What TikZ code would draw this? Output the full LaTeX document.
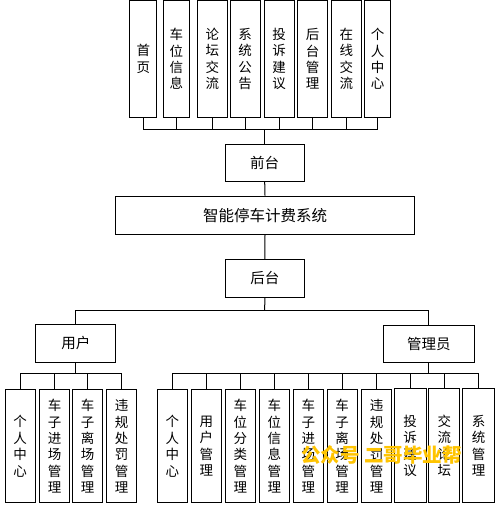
\documentclass[tikz,border=0pt]{standalone}
\usepackage{fontspec}
\setmainfont{Noto Sans CJK SC}
\begin{document}
\begin{tikzpicture}[x=1pt,y=-1pt,
  box/.style={draw=black, line width=1pt, fill=white, inner sep=0pt, align=center,
              font=\fontsize{13.5}{16.4}\selectfont},
  tbox/.style={box, minimum height=116pt},
  vbox/.style={box, minimum width=30pt, minimum height=112.7pt},
  hbox/.style={box, font=\fontsize{14.5}{16}\selectfont, minimum height=38pt},
  link/.style={draw=black, line width=1pt},
  wm/.style={text={rgb,255:red,255;green,196;blue,0}, font=\fontsize{19.5}{21}\selectfont\bfseries, inner sep=0pt}]
\useasboundingbox (0,0) rectangle (499,511);

% top row
\node[tbox, minimum width=26.7pt] (t1) at (143.3,59) {首\\页};
\node[tbox, minimum width=26pt]   (t2) at (176.3,59) {车\\位\\信\\息};
\node[tbox, minimum width=30pt]   (t3) at (212.3,59) {论\\坛\\交\\流};
\node[tbox, minimum width=29.7pt] (t4) at (245.2,59) {系\\统\\公\\告};
\node[tbox, minimum width=29.7pt] (t5) at (279.2,59) {投\\诉\\建\\议};
\node[tbox, minimum width=29.6pt] (t6) at (312.5,59) {后\\台\\管\\理};
\node[tbox, minimum width=30pt]   (t7) at (346.3,59) {在\\线\\交\\流};
\node[tbox, minimum width=26.4pt] (t8) at (377.5,59) {个\\人\\中\\心};

% middle column
\node[hbox, minimum width=79.3pt, minimum height=37.4pt] (qt) at (264.7,163) {前台};
\node[hbox, minimum width=298.6pt, minimum height=38.3pt, font=\fontsize{15.5}{17}\selectfont] (sys) at (265,215.2) {智能停车计费系统};
\node[hbox, minimum width=79pt] (ht) at (264.8,278.3) {后台};

\node[hbox, minimum width=79.7pt] (yh) at (75.8,343.3) {用户};
\node[hbox, minimum width=91pt, minimum height=37pt] (gly) at (428.8,343.8) {管理员};

% left bottom row
\node[vbox] (u1) at (20.2,446.3) {个\\人\\中\\心};
\node[vbox] (u2) at (54.5,446.3) {车\\子\\进\\场\\管\\理};
\node[vbox] (u3) at (87.7,446.3) {车\\子\\离\\场\\管\\理};
\node[vbox] (u4) at (121.7,446.3) {违\\规\\处\\罚\\管\\理};

% right bottom row
\node[vbox] (a1) at (172.3,446.3) {个\\人\\中\\心};
\node[vbox] (a2) at (206.3,446.3) {用\\户\\管\\理};
\node[vbox] (a3) at (240.3,446.3) {车\\位\\分\\类\\管\\理};
\node[vbox] (a4) at (274.3,446.3) {车\\位\\信\\息\\管\\理};
\node[vbox] (a5) at (308.3,446.3) {车\\子\\进\\场\\管\\理};
\node[vbox] (a6) at (342,446.3) {车\\子\\离\\场\\管\\理};
\node[vbox] (a7) at (376.5,446.3) {违\\规\\处\\罚\\管\\理};
\node[vbox, minimum width=32pt, minimum height=113.7pt] (a8) at (410,445.8) {投\\诉\\建\\议};
\node[vbox, minimum width=31.3pt, minimum height=113.7pt] (a9) at (444.3,445.8) {交\\流\\论\\坛};
\node[vbox, minimum width=32pt, minimum height=113.7pt] (a10) at (478.7,445.8) {系\\统\\管\\理};

% bus coordinates
\coordinate (busT) at (264.7,129.5);
\coordinate (split) at (264.7,310.7);
\coordinate (busL) at (75.8,373);
\coordinate (busR) at (428.8,373.3);

% top connectors
\foreach \n in {t1,t2,t3,t4,t5,t6,t7,t8}
  \draw[link] (\n.south) -- (\n.south |- busT);
\draw[link] (t1.south |- busT) -- (t8.south |- busT);
\draw[link] (busT) -- (qt.north);
\draw[link] (qt.south) -- (sys.north);
\draw[link] (sys.south) -- (ht.north);
\draw[link] (ht.south) -- (split);
\draw[link] (yh.north) |- (split) -| (gly.north);

% left bottom connectors
\draw[link] (yh.south) -- (busL);
\draw[link] (u1.north |- busL) -- (u4.north |- busL);
\foreach \n in {u1,u2,u3,u4}
  \draw[link] (\n.north |- busL) -- (\n.north);

% right bottom connectors
\draw[link] (gly.south) -- (busR);
\draw[link] (a1.north |- busR) -- (a10.north |- busR);
\foreach \n in {a1,a2,a3,a4,a5,a6,a7,a8,a9,a10}
  \draw[link] (\n.north |- busR) -- (\n.north);

% watermark
\node[wm] (wmk) at (381.5,455) {公众号\ 二哥毕业帮};
\end{tikzpicture}
\end{document}
